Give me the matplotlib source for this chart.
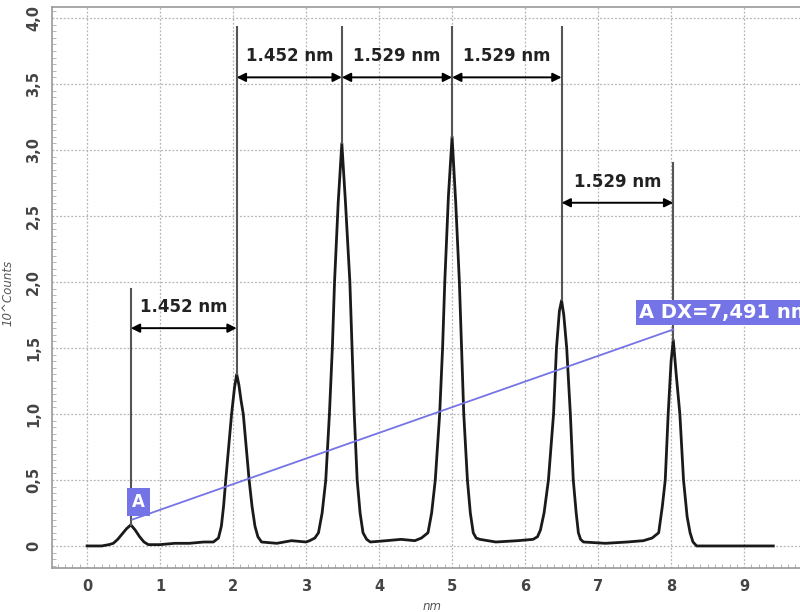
import matplotlib.pyplot as plt
import numpy as np
from matplotlib.ticker import MultipleLocator, FuncFormatter

# profile (nm, 10^3 counts)
pos_nm = [0.00, 0.20, 0.30, 0.36, 0.42, 0.48, 0.54, 0.60, 0.66, 0.72, 0.78, 0.84, 1.00, 1.20, 1.40, 1.60,
          1.73, 1.80, 1.84, 1.87, 1.90, 1.94, 1.98, 2.02, 2.05, 2.08, 2.11, 2.14, 2.18, 2.22, 2.26, 2.30, 2.34, 2.39,
          2.60, 2.80, 3.00, 3.05, 3.12, 3.17, 3.22, 3.27, 3.32, 3.36, 3.39, 3.44, 3.49, 3.54, 3.60, 3.63, 3.66,
          3.70, 3.74, 3.78, 3.83, 3.88, 4.10, 4.30, 4.49, 4.58, 4.67, 4.72, 4.77, 4.83, 4.87, 4.90, 4.95, 5.00,
          5.05, 5.10, 5.13, 5.16, 5.21, 5.25, 5.29, 5.33, 5.38, 5.60, 5.90, 6.11, 6.17, 6.21, 6.26, 6.32, 6.39,
          6.43, 6.47, 6.50, 6.53, 6.57, 6.62, 6.66, 6.70, 6.73, 6.76, 6.80, 7.10, 7.40, 7.62, 7.74, 7.83, 7.88,
          7.92, 7.96, 8.00, 8.03, 8.07, 8.12, 8.17, 8.22, 8.26, 8.30, 8.35, 9.40]
counts = [0.00, 0.00, 0.01, 0.02, 0.05, 0.09, 0.13, 0.16, 0.12, 0.07, 0.03, 0.01, 0.01, 0.02, 0.02, 0.03,
          0.03, 0.06, 0.15, 0.30, 0.50, 0.75, 1.00, 1.20, 1.30, 1.22, 1.10, 1.00, 0.75, 0.50, 0.30, 0.15, 0.07, 0.03,
          0.02, 0.04, 0.03, 0.04, 0.06, 0.10, 0.25, 0.50, 1.00, 1.50, 2.00, 2.60, 3.05, 2.60, 2.00, 1.50, 1.00,
          0.50, 0.25, 0.10, 0.05, 0.03, 0.04, 0.05, 0.04, 0.06, 0.10, 0.25, 0.50, 1.00, 1.50, 2.00, 2.65, 3.10,
          2.60, 2.00, 1.50, 1.00, 0.50, 0.25, 0.10, 0.06, 0.05, 0.03, 0.04, 0.05, 0.07, 0.12, 0.25, 0.50, 1.00,
          1.50, 1.78, 1.86, 1.75, 1.50, 1.00, 0.50, 0.25, 0.10, 0.05, 0.03, 0.02, 0.03, 0.04, 0.06, 0.10, 0.30,
          0.50, 1.00, 1.40, 1.56, 1.30, 1.00, 0.50, 0.22, 0.10, 0.03, 0.00, 0.00]

# markers at peak tops: x, bottom, top
marker_x = [0.60, 2.05, 3.49, 5.00, 6.50, 8.03]
marker_lo = [0.16, 1.30, 3.05, 3.10, 1.86, 1.56]
marker_hi = [1.95, 3.93, 3.93, 3.93, 3.93, 2.90]

# distance arrows: start, end, height, label
arr_x0 = [0.60, 2.05, 3.49, 5.00, 6.50]
arr_x1 = [2.05, 3.49, 5.00, 6.50, 8.03]
arr_y = [1.65, 3.55, 3.55, 3.55, 2.60]
arr_txt = ['1.452 nm', '1.452 nm', '1.529 nm', '1.529 nm', '1.529 nm']

fig = plt.figure(figsize=(8, 6.12), dpi=100)
ax = fig.add_axes([52/800, 1-568/612, 760/800, 561/612])

ax.plot(pos_nm, counts, color='#1a1a1a', lw=2.0, zorder=3)

for x, lo, hi in zip(marker_x, marker_lo, marker_hi):
    ax.plot([x, x], [lo, hi], color='#555555', lw=1.5, zorder=4)

for x0, x1, y, t in zip(arr_x0, arr_x1, arr_y, arr_txt):
    ax.annotate('', xy=(x0, y), xytext=(x1, y),
                arrowprops=dict(arrowstyle='<|-|>', color='black', lw=1.4,
                                mutation_scale=13, shrinkA=0, shrinkB=0), zorder=5)
    ax.text((x0 + x1) / 2, y + 0.09, t, ha='center', va='bottom',
            fontsize=12, fontweight='bold', color='#222222', zorder=5)

# measurement line A -> peak 6
blue = '#7474e6'
ax.plot([0.62, 8.03], [0.20, 1.64], color=blue, lw=1.3, zorder=4)
ax.text(0.70, 0.33, 'A', ha='center', va='center', color='white', fontsize=12, fontweight='bold',
        bbox=dict(boxstyle='square,pad=0.3', fc=blue, ec='none'), zorder=6)
ax.text(7.56, 1.77, 'A DX=7,491 nm', ha='left', va='center', color='white', fontsize=14, fontweight='bold',
        bbox=dict(boxstyle='square,pad=0.15', fc=blue, ec='none'), zorder=6)

ax.set_xlim(-0.48, 9.93)
ax.set_ylim(-0.167, 4.083)
ax.xaxis.set_major_locator(MultipleLocator(1))
ax.xaxis.set_minor_locator(MultipleLocator(0.1))
ax.yaxis.set_major_locator(MultipleLocator(0.5))
ax.yaxis.set_minor_locator(MultipleLocator(0.05))
ax.yaxis.set_major_formatter(FuncFormatter(lambda v, p: '0' if abs(v) < 1e-9 else ('%.1f' % v).replace('.', ',')))
ax.grid(True, which='major', color='#b5b5b5', ls=(0, (1.5, 1.5)), lw=0.9)
ax.tick_params(which='major', length=0, labelsize=10.5, colors='#444444', pad=8)
ax.tick_params(which='minor', direction='in', length=3, color='#aaaaaa')
for lab in ax.get_yticklabels():
    lab.set_rotation(90)
    lab.set_va('center')
for lab in ax.get_xticklabels() + ax.get_yticklabels():
    lab.set_fontweight('bold')
for s in ax.spines.values():
    s.set_color('#999999')
    s.set_linewidth(1.2)

ax.set_xlabel('nm', fontsize=8.5, style='italic', color='#555555', labelpad=4)
ax.set_ylabel('10^Counts', fontsize=8.5, style='italic', color='#555555')
ax.yaxis.set_label_coords(-0.049, 0.49)

fig.savefig('out.png', dpi=100)
